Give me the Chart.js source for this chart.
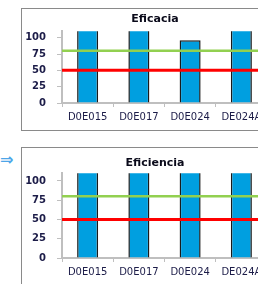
<!DOCTYPE html>
<html><head><meta charset="utf-8">
<script src="https://cdn.jsdelivr.net/npm/chart.js@4"></script>
<style>
html,body{margin:0;padding:0;background:#fff;overflow:hidden;width:258px;height:284px;}
.frame{position:absolute;left:21px;width:266px;border:1px solid #8a8a8a;background:#fff;}
#f1{top:8px;height:121px;}
#f2{top:147px;height:137px;}
canvas{display:block;}
#arrow{position:absolute;left:0;top:151px;font:bold 16px 'DejaVu Sans';color:#4da6e8;line-height:18px;}
</style></head><body>
<div id="arrow">⇒</div>
<div class="frame" id="f1"><canvas id="c1" width="266" height="121"></canvas></div>
<div class="frame" id="f2"><canvas id="c2" width="266" height="137"></canvas></div>
<script>
const categories = ['D0E015', 'D0E017', 'D0E024', 'DE024A'];
const eficacia = [120, 120, 96, 120];
const eficiencia = [120, 120, 120, 120];
const upperLimit = 80;
const lowerLimit = 50;
const yTicks = [0, 25, 50, 75, 100];
const yMax = 110;

function makeChart(id, title, values, titlePad, bottomPad) {
  return new Chart(document.getElementById(id), {
    type: 'bar',
    data: {
      labels: categories,
      datasets: [
        { type: 'line', data: [{x: 0, y: upperLimit}, {x: 1, y: upperLimit}], xAxisID: 'x2',
          borderColor: '#92d050', borderWidth: 2.5, pointRadius: 0, order: 0 },
        { type: 'line', data: [{x: 0, y: lowerLimit}, {x: 1, y: lowerLimit}], xAxisID: 'x2',
          borderColor: '#ff0000', borderWidth: 3, pointRadius: 0, order: 0 },
        { type: 'bar', data: values, backgroundColor: '#009fe0', borderColor: '#1a1a1a',
          borderWidth: 1.5, barPercentage: 0.41, categoryPercentage: 1, grouped: false, order: 1, clip: 0 }
      ]
    },
    options: {
      responsive: false,
      animation: false,
      devicePixelRatio: 1,
      layout: { padding: { left: 0, right: 0, top: 0, bottom: bottomPad } },
      plugins: {
        legend: { display: false },
        tooltip: { enabled: false },
        title: { display: true, text: title, color: '#0a0a1a',
          font: { family: 'DejaVu Sans', size: 11, weight: 'bold' }, padding: titlePad }
      },
      scales: {
        x: { type: 'category', offset: true,
          afterFit: s => { s.height = 20; },
          grid: { offset: true, drawOnChartArea: false, drawTicks: true, tickLength: 4, color: '#bfbfbf', lineWidth: 1 },
          border: { color: '#bfbfbf', width: 2 },
          ticks: { font: { family: 'DejaVu Sans', size: 10 }, color: '#1c1c48', padding: 4, maxRotation: 0, autoSkip: false } },
        x2: { type: 'linear', display: false, offset: false, min: 0, max: 1 },
        y: { min: 0, max: yMax,
          afterBuildTicks: s => { s.ticks = yTicks.map(v => ({ value: v })); },
          afterFit: s => { s.width = 40; },
          grid: { drawOnChartArea: false, tickLength: 5, color: '#bfbfbf' },
          border: { color: '#bfbfbf', width: 2 },
          ticks: { font: { family: 'DejaVu Sans', size: 10, weight: 'bold' }, color: '#1c1c48', padding: 11 } },
        yr: { position: 'right', display: true, min: 0, max: yMax,
          afterFit: s => { s.width = 21; },
          grid: { display: false, drawTicks: false }, border: { display: false },
          ticks: { display: false } }
      }
    }
  });
}
makeChart('c1', 'Eficacia', eficacia, { top: 4, bottom: 5 }, 7);
makeChart('c2', 'Eficiencia', eficiencia, { top: 9, bottom: 3 }, 7);
</script>
</body></html>
